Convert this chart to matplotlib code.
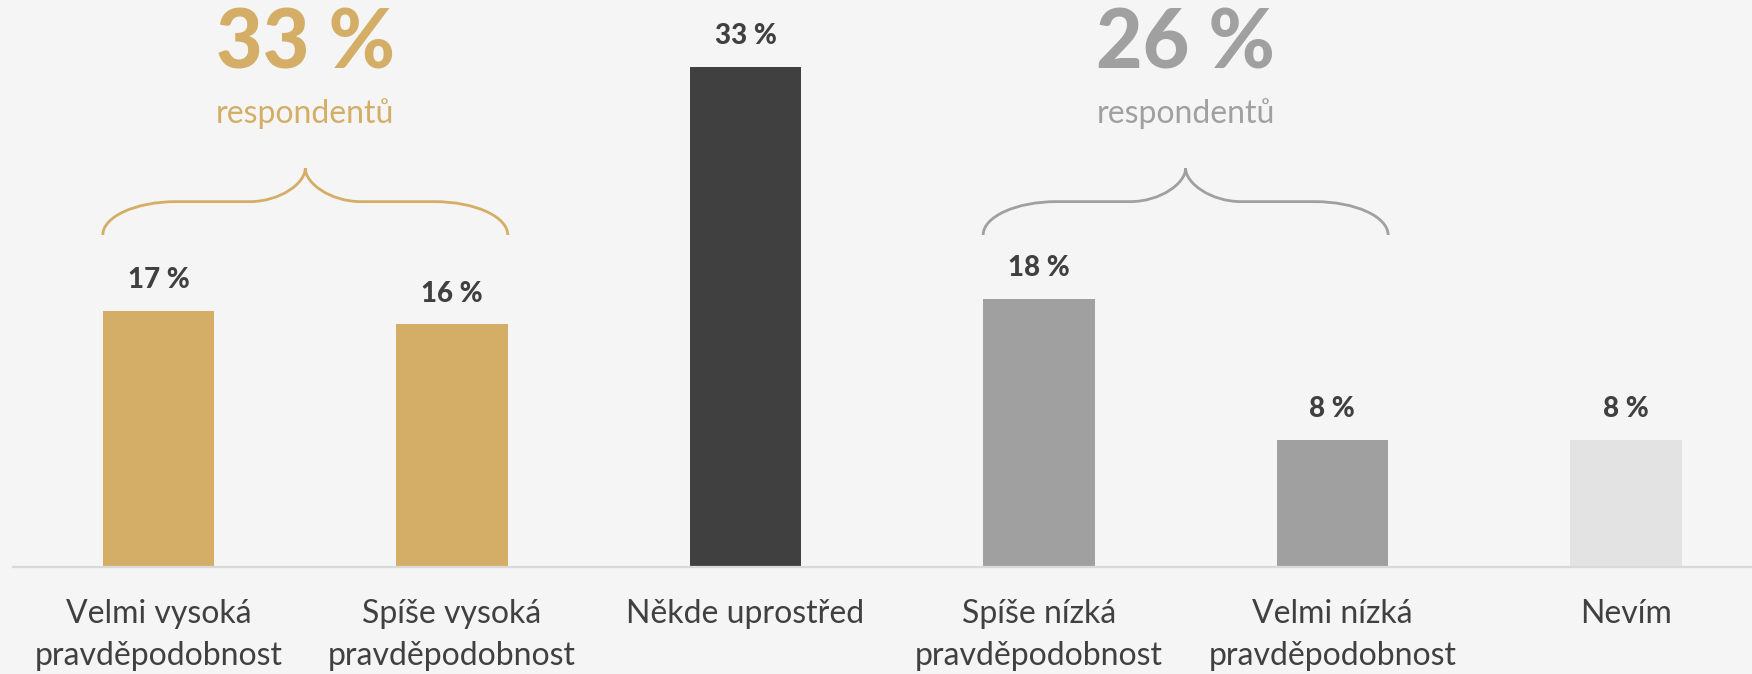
import numpy as np
import matplotlib
matplotlib.use('Agg')
import matplotlib.pyplot as plt
from matplotlib.path import Path
from matplotlib.patches import PathPatch

# data
categories = ['Velmi vysoká\npravděpodobnost', 'Spíše vysoká\npravděpodobnost',
              'Někde uprostřed', 'Spíše nízká\npravděpodobnost',
              'Velmi nízká\npravděpodobnost', 'Nevím']
values = [16.9, 16.0, 33.0, 17.7, 8.4, 8.4]
labels = ['17 %', '16 %', '33 %', '18 %', '8 %', '8 %']
group_idx = [[0, 1], [3, 4]]
group_totals = ['33 %', '26 %']
group_sub = 'respondentů'

GOLD = '#D4AE66'; DARK = '#404040'; GRAY = '#A0A0A0'; LIGHT = '#E3E3E3'
BG = '#F5F5F5'
colors = [GOLD, GOLD, DARK, GRAY, GRAY, LIGHT]
group_colors = [GOLD, GRAY]

BOLD = dict(family=['Lato', 'DejaVu Sans'], weight='black')
REG = dict(family=['Lato', 'DejaVu Sans'], weight='normal')

fig = plt.figure(figsize=(17.52, 6.74), dpi=100, facecolor=BG)
ax = fig.add_axes([13/1752, 107/674, 1 - 13/1752, 567/674])
ax.set_facecolor(BG)

x = np.arange(len(values))
bw = 0.38
ax.bar(x, values, width=bw, color=colors, zorder=2)
ax.set_xlim(-0.496, 5.43)
ax.set_ylim(0, 37.4)

for xi, v, lab in zip(x, values, labels):
    ax.annotate(lab, (xi, v), xytext=(0, 22), textcoords='offset points',
                ha='center', va='center', fontsize=20, color=DARK, **BOLD)

for s in ['top', 'right', 'left']:
    ax.spines[s].set_visible(False)
ax.spines['bottom'].set_color('#D9D9D9')
ax.spines['bottom'].set_linewidth(1.6)
ax.set_yticks([])
ax.set_xticks(x)
ax.set_xticklabels(categories, fontsize=23, color=DARK, linespacing=1.5, **REG)
ax.tick_params(axis='x', length=0, pad=23)


def brace(ax, xl, xr, y_end, y_hor, y_peak, color):
    xm = (xl + xr) / 2
    a = 0.25; b = 0.19; k = 0.55
    verts = [
        (xl, y_end), (xl, y_end + k * (y_hor - y_end)), (xl + a * (1 - k), y_hor), (xl + a, y_hor),
        (xm - b, y_hor),
        (xm - b * (1 - k), y_hor), (xm, y_hor + k * (y_peak - y_hor)), (xm, y_peak),
        (xm, y_hor + k * (y_peak - y_hor)), (xm + b * (1 - k), y_hor), (xm + b, y_hor),
        (xr - a, y_hor),
        (xr - a * (1 - k), y_hor), (xr, y_end + k * (y_hor - y_end)), (xr, y_end),
    ]
    codes = [Path.MOVETO, Path.CURVE4, Path.CURVE4, Path.CURVE4,
             Path.LINETO,
             Path.CURVE4, Path.CURVE4, Path.CURVE4,
             Path.CURVE4, Path.CURVE4, Path.CURVE4,
             Path.LINETO,
             Path.CURVE4, Path.CURVE4, Path.CURVE4]
    ax.add_patch(PathPatch(Path(verts, codes), fill=False, edgecolor=color,
                           lw=2.0, clip_on=False, zorder=3))
    return xm


for idx, tot, col in zip(group_idx, group_totals, group_colors):
    xl = x[idx[0]] - bw / 2
    xr = x[idx[-1]] + bw / 2
    xm = brace(ax, xl, xr, 21.9, 24.1, 26.3, col)
    ax.text(xm, 34.4, tot, ha='center', va='center', fontsize=58,
            color=col, clip_on=False, **BOLD)
    ax.text(xm, 29.9, group_sub, ha='center', va='center', fontsize=23,
            color=col, clip_on=False, **REG)

fig.savefig('out.png', dpi=100, facecolor=BG)
